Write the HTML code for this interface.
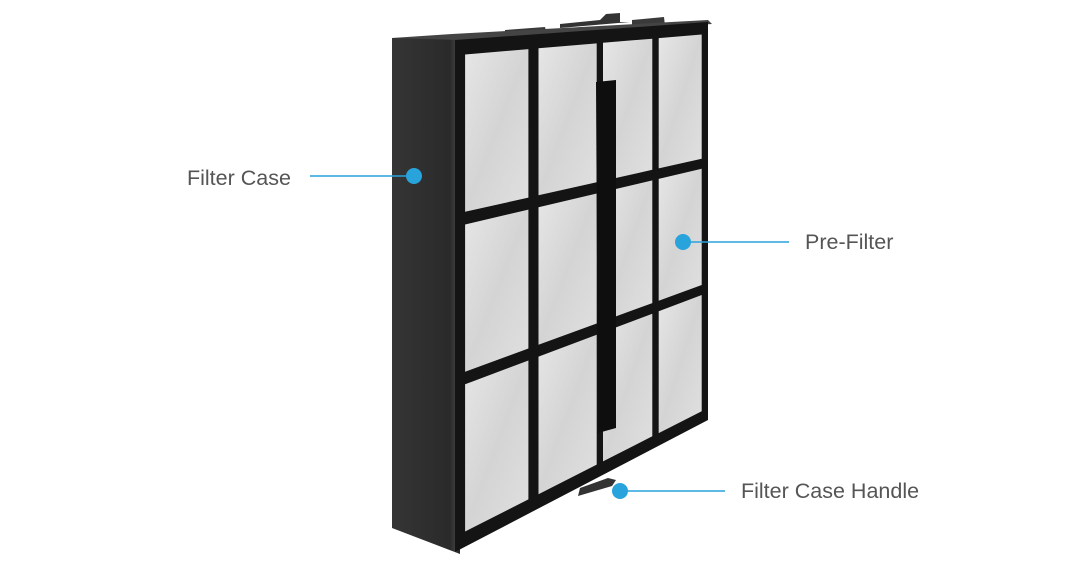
<!DOCTYPE html>
<html><head><meta charset="utf-8"><style>
html,body{margin:0;padding:0;background:#fff;}
body{width:1080px;height:570px;overflow:hidden;position:relative;}
svg{position:absolute;left:0;top:0;}
</style></head><body>
<svg id="s" width="1080" height="570" viewBox="0 0 1080 570" xmlns="http://www.w3.org/2000/svg">
<defs>
<linearGradient id="side" x1="0" y1="0" x2="1" y2="0">
<stop offset="0" stop-color="#353535"/><stop offset="0.85" stop-color="#2a2a2a"/><stop offset="0.93" stop-color="#3c3c3c"/><stop offset="1" stop-color="#222"/>
</linearGradient>
<linearGradient id="cell" x1="0" y1="0" x2="1" y2="1">
<stop offset="0" stop-color="#e6e6e6"/><stop offset="0.5" stop-color="#d4d4d4"/><stop offset="1" stop-color="#e0e0e0"/>
</linearGradient>
</defs>
<polygon points="505,30 545,27 547,36 505,38" fill="#3a3a3a"/>
<polygon points="560,24 600,20 606,14 620,13 620,22 630,22 560,28" fill="#333"/>
<polygon points="632,20 664,17 665,26 632,28" fill="#3a3a3a"/>
<polygon points="392,38 460,37 460,554 392,528" fill="url(#side)"/>
<polygon points="392,38 452,34 708,20 712,24 460,40" fill="#444"/>
<polygon points="455,40 708,22 708,420 455,552" fill="#141414"/>
<g id="cells"></g>
<polygon points="596,82 616,80 616,428 598,433" fill="#0e0e0e"/>
<polygon points="578,496 612,486 616,480 608,478 580,488" fill="#333"/>
<g stroke="#29a3dc" stroke-width="1.6">
<line x1="310" y1="176" x2="414" y2="176"/>
<line x1="683" y1="242" x2="789" y2="242"/>
<line x1="620" y1="491" x2="725" y2="491"/>
</g>
<g fill="#29a3dc">
<circle cx="414" cy="176" r="8"/>
<circle cx="683" cy="242" r="8"/>
<circle cx="620" cy="491" r="8"/>
</g>
<g font-family="Liberation Sans, sans-serif" font-size="21.5" fill="#555">
<text x="187" y="185">Filter Case</text>
<text x="805" y="249">Pre-Filter</text>
<text x="741" y="498">Filter Case Handle</text>
</g>
</svg>
<script>
(function(){
function P(u,v){var tx=455+253*u,ty=40-18*u,by=552-132*u;return [tx,ty+v*(by-ty)];}
var cols=[[0.04,0.29],[0.33,0.56],[0.585,0.78],[0.805,0.975]];
var rows=[[0.03,0.34],[0.365,0.655],[0.68,0.97]];
var g=document.getElementById('cells'),ns='http://www.w3.org/2000/svg';
cols.forEach(function(c){rows.forEach(function(r){
var pts=[P(c[0],r[0]),P(c[1],r[0]),P(c[1],r[1]),P(c[0],r[1])].map(function(p){return p[0].toFixed(1)+','+p[1].toFixed(1)}).join(' ');
var e=document.createElementNS(ns,'polygon');e.setAttribute('points',pts);e.setAttribute('fill','url(#cell)');g.appendChild(e);
});});
})();
</script>
</body></html>
